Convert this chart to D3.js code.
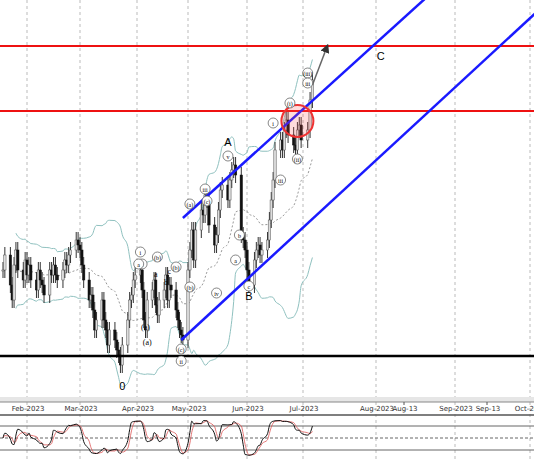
<!DOCTYPE html>
<html><head><meta charset="utf-8">
<script src="https://cdn.jsdelivr.net/npm/d3@7"></script>
<style>body{margin:0;background:#fff}svg{display:block;font-family:"DejaVu Sans",sans-serif}</style>
</head><body><svg id="c" width="534" height="462"></svg>
<script>
const closes = [130,145,115,100,135,150,130,120,140,
125,135,120,110,130,120,115,105,130,125,135,125,120,130,140,135,145,150,160,155,
150,135,120,100,105,90,70,80,100,80,70,55,70,60,50,45,35,55,80,100,105,120,125,
130,110,80,70,100,110,120,95,85,100,110,125,100,115,110,90,80,70,65,60,
130,150,170,140,170,190,185,205,200,175,155,165,190,210,215,200,220,230,235,225,165,160,150,
130,115,140,150,155,145,150,160,180,200,220,250,260,250,270,280,265,255,250,270,275,260,
270,300,320];
const monthTicks = ["2023-02-01","2023-03-01","2023-04-01","2023-05-01","2023-06-01","2023-07-01","2023-08-01","2023-09-01","2023-10-01"];
const monthLabels = ["Feb-2023","Mar-2023","Apr-2023","May-2023","Jun-2023","Jul-2023","Aug-2023","Sep-2023","Oct-2023"];
const extraTicks = [["2023-08-13","Aug-13"],["2023-09-13","Sep-13"]];
const resistance = [354, 289];
const support = 44;
const channelUpper = [["2023-04-28",182],["2023-08-24",409]];
const channelLower = [["2023-04-27",60],["2023-10-03",388]];
const waveLabels = [
 ["2023-03-24",10,"0",0],["2023-05-22",254,"A",0],["2023-06-02",100,"B",0],["2023-08-03",340,"C",0],
 ["2023-04-03",145,"i",1],["2023-04-04",133,"c",1],["2023-04-02",133,"a",1],["2023-04-13",140,"(b)",1],["2023-04-06",70,"(a)",0],["2023-04-07",55,"(a)",0],
 ["2023-04-12",123,"a",0],["2023-04-18",115,"b",0],["2023-04-20",126,"c",0],["2023-04-24",130,"(b)",1],["2023-04-27",48,"(c)",1],["2023-04-27",36,"ii",1],
 ["2023-05-02",193,"(a)",1],["2023-05-02",110,"(b)",1],["2023-05-10",208,"iii",1],["2023-05-11",196,"(c)",1],["2023-05-16",104,"iv",1],["2023-05-22",241,"v",1],
 ["2023-05-26",137,"a",1],["2023-05-28",162,"b",1],["2023-06-02",111,"c",1],["2023-06-19",217,"iii",1],["2023-06-15",274,"i",1],
 ["2023-06-24",294,"(i)",1],["2023-06-28",238,"(ii)",1],["2023-07-03",324,"(iii)",1],["2023-07-03",314,"iii",1]
];
const dates = [];
for(let d=new Date(2023,0,19); dates.length<closes.length; d=new Date(d.getTime()+864e5)){
  if(d.getDay()!==0&&d.getDay()!==6) dates.push(new Date(d));
}
const P = d3.timeParse("%Y-%m-%d");
const svg = d3.select("#c");
const x = d3.scaleTime()
  .domain(["2023-01-19","2023-02-01","2023-03-01","2023-04-01","2023-05-01","2023-06-01","2023-07-01","2023-08-01","2023-08-13","2023-09-01","2023-09-13","2023-10-01","2023-10-04"].map(P))
  .range([3,27,80,137,188,247,303,376,404,455,487,530,540]);
const y = d3.scaleLinear().domain([0,400]).range([400,0]);
const ys = d3.scaleLinear().domain([0,100]).range([458,418]);

monthTicks.forEach(t=>{
  svg.append("line").attr("x1",x(P(t))).attr("x2",x(P(t))).attr("y1",0).attr("y2",462)
   .attr("stroke","#bbb").attr("stroke-dasharray","3,3");
});
const N=20, bb=[];
closes.forEach((c,i)=>{ if(i>=5){const s=closes.slice(Math.max(0,i-N+1),i+1);const m=d3.mean(s),sd=Math.max(d3.deviation(s),12);bb.push({d:dates[i],m,u:m+2*sd,l:m-2*sd});}});
const ln = k=>d3.line().x(d=>x(d.d)).y(d=>y(d[k])).curve(d3.curveMonotoneX)(bb);
svg.append("path").attr("d",ln("u")).attr("fill","none").attr("stroke","#8fc1bf");
svg.append("path").attr("d",ln("l")).attr("fill","none").attr("stroke","#8fc1bf");
svg.append("path").attr("d",ln("m")).attr("fill","none").attr("stroke","#999").attr("stroke-dasharray","2,2");
closes.forEach((c,i)=>{
  const o=i?closes[i-1]:c, hi=Math.max(o,c)+8, lo=Math.min(o,c)-8, X=x(dates[i]);
  svg.append("line").attr("x1",X).attr("x2",X).attr("y1",y(hi)).attr("y2",y(lo)).attr("stroke","#333");
  svg.append("rect").attr("x",X-1.2).attr("width",2.4).attr("y",y(Math.max(o,c))).attr("height",Math.max(1,Math.abs(y(o)-y(c))))
   .attr("fill",c>=o?"#ddd":"#111").attr("stroke",c>=o?"#555":"#111").attr("stroke-width",0.5);
});
resistance.forEach(v=>svg.append("line").attr("x1",0).attr("x2",534).attr("y1",y(v)).attr("y2",y(v)).attr("stroke","#e11").attr("stroke-width",2));
svg.append("line").attr("x1",0).attr("x2",534).attr("y1",y(support)).attr("y2",y(support)).attr("stroke","#000").attr("stroke-width",2.5);
[channelUpper,channelLower].forEach(c=>svg.append("line").attr("x1",x(P(c[0][0]))).attr("y1",y(c[0][1])).attr("x2",x(P(c[1][0]))).attr("y2",y(c[1][1])).attr("stroke","#1a1aff").attr("stroke-width",2.5));
svg.append("circle").attr("cx",x(P("2023-06-28"))).attr("cy",y(279)).attr("r",16).attr("fill","rgba(255,80,80,0.2)").attr("stroke","#e33").attr("stroke-width",2);
svg.append("defs").append("marker").attr("id","ar").attr("viewBox","0 0 10 10").attr("refX",5).attr("refY",5).attr("markerWidth",6).attr("markerHeight",6).attr("orient","auto")
 .append("path").attr("d","M0,0L10,5L0,10z").attr("fill","#333");
svg.append("line").attr("x1",x(P("2023-07-05"))).attr("y1",y(315)).attr("x2",x(P("2023-07-11"))).attr("y2",y(352)).attr("stroke","#666").attr("stroke-width",1.5).attr("marker-end","url(#ar)");
waveLabels.forEach(([d,v,t,c])=>{
  const X=x(P(d)),Y=y(v);
  if(c) svg.append("circle").attr("cx",X).attr("cy",Y-3).attr("r",5).attr("fill","#fff").attr("stroke","#555").attr("stroke-width",0.7);
  const big=/^[0ABC]$/.test(t);
  svg.append("text").attr("x",X).attr("y",Y).attr("text-anchor","middle").attr("font-size",big?11:(c?6:8)).attr("font-family",big?"Liberation Sans":"Liberation Serif").text(t);
});
svg.append("rect").attr("x",0).attr("y",397).attr("width",534).attr("height",5).attr("fill","#e6e6e6");
svg.append("line").attr("x1",0).attr("x2",534).attr("y1",402).attr("y2",402).attr("stroke","#888");
monthTicks.forEach((t,i)=>svg.append("text").attr("x",x(P(t))+1).attr("y",411).attr("font-size",7).attr("text-anchor","middle").attr("fill","#333").text(monthLabels[i]));
extraTicks.forEach(([t,l])=>{svg.append("line").attr("x1",x(P(t))).attr("x2",x(P(t))).attr("y1",402).attr("y2",405).attr("stroke","#555");
 svg.append("text").attr("x",x(P(t))+1).attr("y",411).attr("font-size",7).attr("text-anchor","middle").attr("fill","#333").text(l);});
svg.append("line").attr("x1",0).attr("x2",534).attr("y1",415).attr("y2",415).attr("stroke","#555").attr("stroke-width",1.5);
[[80,null],[50,"3,2"],[20,null]].forEach(([v,da])=>svg.append("line").attr("x1",0).attr("x2",534).attr("y1",ys(v)).attr("y2",ys(v)).attr("stroke","#666").attr("stroke-dasharray",da));
const K=[];closes.forEach((c,i)=>{const s=closes.slice(Math.max(0,i-9),i+1);const hi=d3.max(s)+8,lo=d3.min(s)-8;K.push({d:dates[i],v:100*(c-lo)/(hi-lo)});});
const Ks=K.map((k,i)=>({d:k.d,v:d3.mean(K.slice(Math.max(0,i-2),i+1),q=>q.v)}));
const Ds=Ks.map((k,i)=>({d:k.d,v:d3.mean(Ks.slice(Math.max(0,i-2),i+1),q=>q.v)}));
const sl=d3.line().x(d=>x(d.d)).y(d=>ys(d.v)).curve(d3.curveMonotoneX);
svg.append("path").attr("d",sl(Ds)).attr("fill","none").attr("stroke","#d55").attr("stroke-width",0.8);
svg.append("path").attr("d",sl(Ks)).attr("fill","none").attr("stroke","#111").attr("stroke-width",1);
</script></body></html>
